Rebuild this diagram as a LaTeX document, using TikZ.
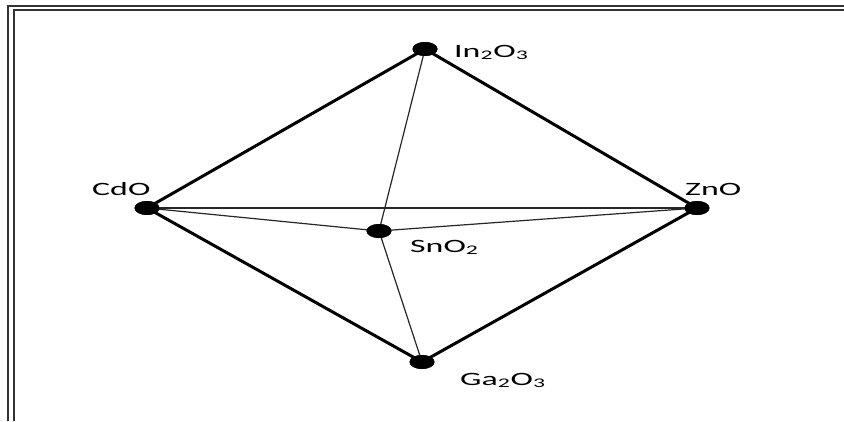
\documentclass[tikz,border=0pt]{standalone}
\usepackage{fontspec}
\setmainfont{Carlito}
\usepackage{graphicx}
\usetikzlibrary{shapes.geometric, positioning}

% wide letters, as in the stretched figure
\newcommand{\widetext}[1]{\scalebox{1.8}[1]{#1}}

\tikzset{
  oxide/.style={ellipse, fill=black, draw=none, minimum width=25pt, minimum height=14pt, inner sep=0pt},
  lbl/.style={font=\fontsize{18.8}{20}\selectfont, inner sep=0pt, anchor=base west},
  rim/.style={line width=3pt, black},
  core/.style={line width=1.2pt, black!85},
  frame/.style={line width=1.9pt, black!80}
}

\begin{document}
\begin{tikzpicture}[x=1pt, y=-1pt]
  \useasboundingbox (0,0) rectangle (844,421);
  % double frame, open at right and bottom
  \draw[frame] (8,421) -- (8,6) -- (844,6);
  \draw[frame] (14,421) -- (14,10) -- (844,10);
  % corners of the diagram
  \node[oxide] (in) at (425,49) {};
  \node[oxide] (cd) at (147,208) {};
  \node[oxide] (zn) at (697,208) {};
  \node[oxide] (sn) at (379,231) {};
  \node[oxide] (ga) at (422,362) {};
  % inner lines
  \draw[core] (cd.center) -- (zn.center);
  \draw[core] (in.center) -- (sn.center) -- (ga.center);
  \draw[core] (cd.center) -- (sn.center) -- (zn.center);
  % outer edges
  \draw[rim] (cd.center) -- (in.center) -- (zn.center) -- (ga.center) -- cycle;
  % dots on top of the lines
  \foreach \n in {in, cd, zn, sn, ga} {
    \node[oxide] at (\n) {};
  }
  % labels
  \node[lbl] (inlbl) at (454,57) {\widetext{In\textsubscript{2}O\textsubscript{3}}};
  \node[lbl] (cdlbl) at (92,195) {\widetext{CdO}};
  \node[lbl] (znlbl) at (685,195) {\widetext{ZnO}};
  \node[lbl] (snlbl) at (410,252) {\widetext{SnO\textsubscript{2}}};
  \node[lbl] (galbl) at (460,385) {\widetext{Ga\textsubscript{2}O\textsubscript{3}}};
\end{tikzpicture}
\end{document}
